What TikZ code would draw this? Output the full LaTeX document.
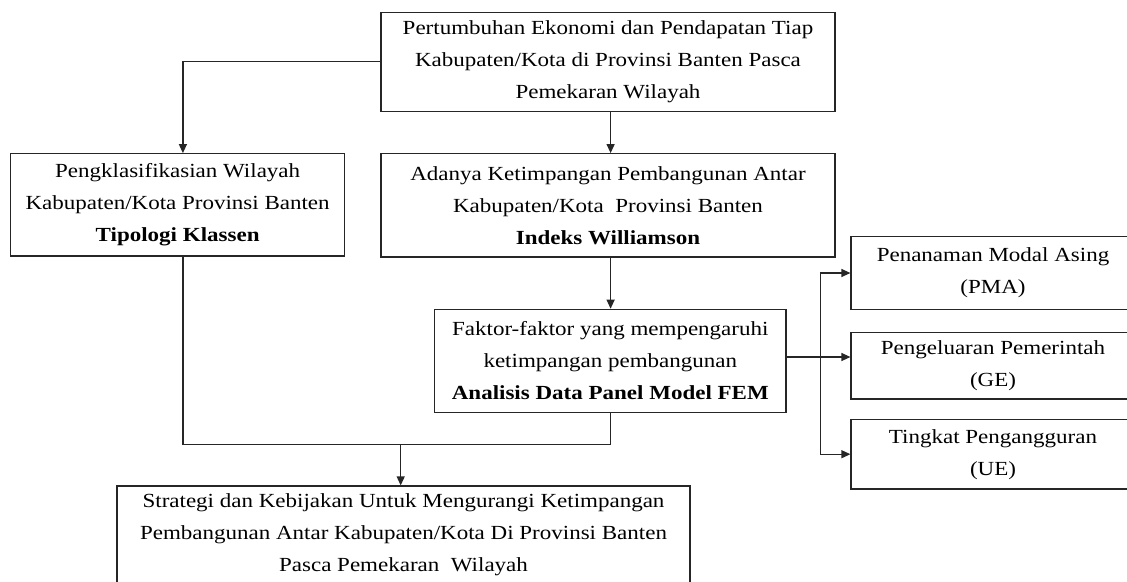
\documentclass[tikz,border=0pt]{standalone}
\usepackage{fontspec}
\setmainfont{Liberation Serif}[FakeStretch=1.15]
\usetikzlibrary{arrows.meta,calc}
\begin{document}
\begin{tikzpicture}[x=1pt,y=-1pt,
  box/.style={draw=black!85,line width=1.2pt,rectangle,inner sep=0pt,align=center,
    font=\fontsize{20}{32}\selectfont,text=black},
  conn/.style={draw=black!85,line width=1.2pt},
  arr/.style={conn,-{Triangle[length=9pt,width=8pt]}}]
\useasboundingbox (0,0) rectangle (1127,581);
\clip (0,0) rectangle (1127,581);
\node[box,minimum width=454pt,minimum height=99pt] (top) at (608,62.2)
  {Pertumbuhan Ekonomi dan Pendapatan Tiap\\Kabupaten/Kota di Provinsi Banten Pasca\\Pemekaran Wilayah};
\node[box,minimum width=334pt,minimum height=102.3pt] (left) at (177.65,204.85)
  {Pengklasifikasian Wilayah\\Kabupaten/Kota Provinsi Banten\\\textbf{Tipologi Klassen}};
\node[box,minimum width=454pt,minimum height=103.3pt] (mid) at (608,205.35)
  {Adanya Ketimpangan Pembangunan Antar\\Kabupaten/Kota\ \ Provinsi Banten\\\textbf{Indeks Williamson}};
\node[box,minimum width=351.4pt,minimum height=103.4pt] (fak) at (610.3,361)
  {Faktor-faktor yang mempengaruhi\\ketimpangan pembangunan\\\textbf{Analisis Data Panel Model FEM}};
\node[box,minimum width=573pt,minimum height=98pt] (bot) at (403.5,535)
  {Strategi dan Kebijakan Untuk Mengurangi Ketimpangan\\Pembangunan Antar Kabupaten/Kota Di Provinsi Banten\\Pasca Pemekaran\ \ Wilayah};
\node[box,minimum width=284pt,minimum height=72.6pt] (pma) at (993,273)
  {Penanaman Modal Asing\\(PMA)};
\node[box,minimum width=284pt,minimum height=66.7pt] (ge) at (993,365.7)
  {Pengeluaran Pemerintah\\(GE)};
\node[box,minimum width=284pt,minimum height=69.7pt] (ue) at (993,454.2)
  {Tingkat Pengangguran\\(UE)};
\coordinate (lx) at (182.9,61.7);
\coordinate (sx) at (610.6,0);
\coordinate (j) at (400.7,444.3);
\coordinate (bus) at (820.4,357);
\draw[arr] (top.west |- lx) -| (lx |- left.north);
\draw[arr] (top.south -| sx) -- (mid.north -| sx);
\draw[arr] (mid.south -| sx) -- (fak.north -| sx);
\draw[conn] (left.south -| lx) -- (lx |- j) -- (sx |- j) -- (fak.south -| sx);
\draw[arr] (j) -- (bot.north -| j);
\draw[arr] (fak.east |- bus) -- (ge.west |- bus);
\draw[conn] (bus |- pma.west) -- (bus |- ue.west);
\draw[arr] (bus |- pma.west) -- (pma.west);
\draw[arr] (bus |- ue.west) -- (ue.west);
\end{tikzpicture}
\end{document}
